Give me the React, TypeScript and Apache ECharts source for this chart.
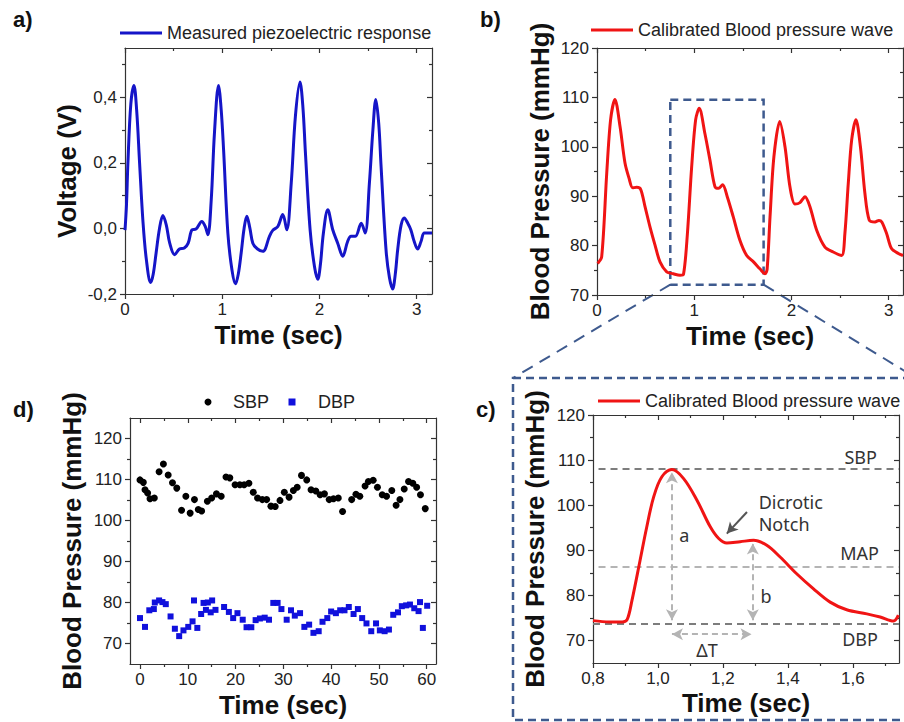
import React, { useEffect, useRef } from "react";
import * as echarts from "echarts";

// ---------- a) measured piezoelectric response ----------
const piezoTime = [0, 0.015, 0.03, 0.06, 0.092, 0.12, 0.15, 0.185, 0.22, 0.264, 0.29, 0.32, 0.355, 0.39, 0.425, 0.46, 0.51, 0.56, 0.61, 0.65, 0.69, 0.73, 0.79, 0.825, 0.853, 0.887, 0.92, 0.962, 0.99, 1.014, 1.058, 1.1, 1.137, 1.165, 1.195, 1.225, 1.253, 1.285, 1.315, 1.36, 1.418, 1.486, 1.52, 1.572, 1.623, 1.664, 1.71, 1.753, 1.8, 1.83, 1.856, 1.904, 1.949, 1.983, 2.01, 2.041, 2.086, 2.137, 2.188, 2.24, 2.29, 2.325, 2.37, 2.43, 2.47, 2.514, 2.55, 2.58, 2.61, 2.634, 2.685, 2.72, 2.753, 2.78, 2.805, 2.84, 2.873, 2.91, 2.94, 2.975, 3.01, 3.045, 3.08, 3.158];
const piezoVoltage = [-0.005, 0.07, 0.2, 0.38, 0.436, 0.36, 0.2, 0.02, -0.096, -0.165, -0.14, -0.075, 0.0, 0.039, 0.01, -0.045, -0.08, -0.063, -0.06, -0.045, -0.004, -0.002, 0.021, 0.006, -0.019, 0.087, 0.29, 0.436, 0.36, 0.24, -0.014, -0.126, -0.169, -0.14, -0.075, 0.0, 0.037, 0.0, -0.045, -0.062, -0.07, -0.024, -0.006, 0.006, 0.042, -0.004, 0.138, 0.342, 0.446, 0.37, 0.23, -0.004, -0.116, -0.155, -0.11, -0.014, 0.057, -0.004, -0.045, -0.085, -0.04, -0.024, -0.024, 0.016, -0.014, 0.138, 0.3, 0.393, 0.32, 0.19, -0.065, -0.15, -0.185, -0.14, -0.065, 0.01, 0.032, 0.015, -0.004, -0.04, -0.063, -0.04, -0.014, -0.014];

// ---------- b) calibrated blood pressure wave ----------
const waveTime = [0.007, 0.048, 0.1, 0.14, 0.185, 0.237, 0.288, 0.33, 0.367, 0.408, 0.449, 0.494, 0.545, 0.597, 0.648, 0.717, 0.785, 0.854, 0.89, 0.93, 0.974, 1.015, 1.052, 1.11, 1.162, 1.214, 1.25, 1.292, 1.34, 1.402, 1.47, 1.54, 1.61, 1.676, 1.728, 1.75, 1.78, 1.82, 1.88, 1.934, 1.985, 2.036, 2.088, 2.14, 2.19, 2.26, 2.345, 2.43, 2.517, 2.55, 2.585, 2.62, 2.664, 2.71, 2.756, 2.8, 2.86, 2.9, 2.93, 2.98, 3.03, 3.1, 3.148];
const wavePressure = [76.4, 77.7, 94.6, 105.5, 109.6, 104.1, 96.7, 93.6, 91.7, 91.8, 91.4, 87.9, 83.8, 80.1, 76.7, 74.7, 74.3, 74.0, 74.2, 82.4, 96.0, 105.5, 107.8, 102.7, 97.3, 91.9, 91.6, 92.3, 89.9, 85.8, 81.1, 78.0, 76.7, 75.3, 74.3, 75.2, 85.8, 98.0, 105.1, 100.0, 91.9, 88.4, 88.7, 89.9, 87.9, 83.1, 79.7, 78.7, 78.0, 82.4, 92.6, 101.4, 105.5, 100.0, 90.6, 85.2, 84.8, 85.1, 84.8, 82.4, 79.4, 78.4, 78.0];
const zoomWindowTime = [0.754, 1.714];
const zoomWindowPressure = [72.1, 109.5];

// ---------- c) single pulse ----------
const pulseTime = [0.8, 0.85, 0.89, 0.905, 0.92, 0.945, 0.965, 0.987, 1.012, 1.043, 1.079, 1.12, 1.161, 1.187, 1.212, 1.253, 1.294, 1.335, 1.376, 1.427, 1.478, 1.53, 1.581, 1.643, 1.684, 1.725, 1.74];
const pulsePressure = [74.4, 74.1, 74.1, 74.6, 78.9, 87.8, 95.0, 101.9, 106.3, 107.9, 105.9, 101.1, 95.2, 92.6, 91.6, 91.9, 92.2, 91.1, 88.5, 84.8, 81.5, 78.5, 76.8, 75.9, 75.2, 74.3, 75.6];
const levelNames = ["SBP", "MAP", "DBP"];
const levelValues = [108.1, 86.3, 73.8];
const levelStart = [0.817, 0.817, 0.8];
const arrowATime = 1.043, arrowAFrom = 74.5, arrowATo = 107.3;
const arrowBTime = 1.292, arrowBFrom = 74.5, arrowBTo = 91.5;
const deltaTLevel = 71.4, deltaTFrom = 1.043, deltaTTo = 1.288;

// ---------- d) SBP / DBP trend ----------
const sbpTime = [0, 0.7, 1.05, 1.6, 2.1, 3.0, 4.0, 4.9, 5.9, 6.8, 7.7, 8.7, 9.6, 10.5, 11.4, 12.2, 12.9, 14.1, 15.0, 16.0, 17.0, 18.0, 18.8, 19.9, 20.9, 21.8, 22.8, 23.7, 24.6, 25.6, 26.5, 27.4, 28.3, 29.3, 30.2, 31.2, 32.1, 32.9, 33.8, 34.9, 35.8, 36.8, 37.7, 38.6, 39.6, 40.5, 41.5, 42.4, 44.3, 45.2, 46.0, 47.1, 47.8, 48.8, 49.7, 50.7, 51.6, 52.7, 53.6, 54.4, 55.3, 56.2, 57.1, 57.9, 58.7, 59.7];
const sbpValues = [109.9, 109.3, 107.5, 106.7, 105.3, 105.5, 111.9, 113.8, 111.1, 109.2, 107.9, 102.5, 105.9, 101.8, 105.1, 102.7, 102.3, 104.7, 105.5, 106.5, 105.9, 110.6, 110.4, 108.7, 108.7, 108.7, 109.1, 106.9, 105.5, 105.1, 105.1, 103.5, 103.4, 104.9, 106.9, 105.7, 107.3, 108.1, 111.0, 109.9, 107.5, 107.2, 106.3, 106.5, 105.1, 105.3, 105.5, 102.2, 105.1, 106.4, 105.9, 108.4, 109.5, 109.8, 108.1, 106.3, 105.9, 107.3, 103.7, 105.1, 107.7, 109.5, 109.1, 108.1, 106.3, 102.9];
const dbpTime = [0, 1.05, 1.95, 2.9, 3.1, 4.0, 4.7, 5.4, 6.4, 7.3, 8.2, 9.1, 10.1, 11.0, 11.3, 12.0, 12.8, 13.3, 13.8, 14.2, 14.8, 15.1, 15.8, 17.6, 18.6, 19.5, 20.4, 21.5, 22.3, 23.3, 24.2, 25.1, 26.1, 27.0, 27.9, 28.8, 29.6, 30.7, 31.6, 32.4, 33.5, 34.4, 35.4, 36.3, 37.4, 38.2, 39.2, 40.0, 41.0, 41.9, 42.8, 43.7, 44.7, 45.6, 46.5, 47.4, 48.4, 49.4, 50.2, 51.2, 52.1, 53.0, 54.0, 54.8, 55.7, 56.5, 57.4, 58.3, 58.6, 59.2, 60.1];
const dbpValues = [76.2, 74.05, 78.1, 78.4, 80.0, 80.5, 80.1, 79.6, 76.6, 73.6, 71.8, 73.2, 74.05, 75.4, 80.5, 73.8, 77.2, 79.9, 78.2, 80.0, 77.6, 80.5, 78.2, 78.9, 77.7, 76.2, 77.4, 75.8, 73.97, 73.97, 75.7, 76.1, 76.3, 75.8, 79.9, 79.9, 78.4, 75.8, 78.1, 76.8, 77.4, 74.05, 74.6, 72.6, 73.0, 75.3, 76.2, 77.8, 77.4, 78.1, 78.1, 78.9, 77.2, 78.4, 76.2, 74.9, 73.0, 74.9, 73.2, 73.0, 73.4, 77.0, 77.6, 79.1, 79.3, 79.5, 78.6, 77.9, 80.1, 73.8, 79.2];

// ---------- tick values ----------
const secTicks = [0, 1, 2, 3];
const secMinor = [0.5, 1.5, 2.5];
const voltTicks = [-0.2, 0, 0.2, 0.4];
const voltMinor = [-0.1, 0.1, 0.3, 0.5];
const bpTicks = [70, 80, 90, 100, 110, 120];
const bpMinor = [75, 85, 95, 105, 115];
const pulseTimeTicks = [0.8, 1.0, 1.2, 1.4, 1.6];
const pulseTimeMinor = [0.9, 1.1, 1.3, 1.5, 1.7];
const trendTimeTicks = [0, 10, 20, 30, 40, 50, 60];
const trendTimeMinor = [5, 15, 25, 35, 45, 55];

const FONT = "'Liberation Sans', Arial, Helvetica, sans-serif";
const NOTE_FONT = "'Noto Sans', 'Open Sans', sans-serif";
const AXIS = "#333333";
const BLUE = "#1515c8";
const RED = "#f01414";
const DBP_BLUE = "#1010dc";
const FRAME = "#3e5a8e";

const comma1 = (v: number) => v.toFixed(1).replace(".", ",");
const intFmt = (v: number) => String(Math.round(v));
const zip = (a: number[], b: number[]) => a.map((x, i) => [x, b[i]]);

function makeAxes(dim: "x" | "y", gridIndex: number, min: number, max: number, major: number[], minor: number[], name: string, nameGap: number, fmt: (v: number) => string) {
  const mainPos = dim === "x" ? "bottom" : "left";
  const oppPos = dim === "x" ? "top" : "right";
  const base = { type: "value", gridIndex, min, max, splitLine: { show: false } };
  const line = { show: true, onZero: false, lineStyle: { color: AXIS, width: 1.2 } };
  const noLine = { show: false, onZero: false };
  const tickStyle = { color: AXIS, width: 1.2 };
  return [
    {
      ...base, position: mainPos, axisLine: line,
      axisTick: { show: true, inside: false, length: 5, customValues: major, lineStyle: tickStyle },
      axisLabel: { show: true, customValues: major, formatter: fmt, fontSize: 17, color: "#222", fontFamily: FONT, margin: dim === "x" ? 7 : 8 },
      name, nameLocation: "middle", nameGap,
      nameTextStyle: { fontSize: 26, fontWeight: "bold", color: "#111", fontFamily: FONT },
    },
    { ...base, position: mainPos, axisLine: noLine, axisTick: { show: true, inside: false, length: 3, customValues: minor, lineStyle: tickStyle }, axisLabel: { show: false } },
    { ...base, position: oppPos, axisLine: line, axisTick: { show: true, inside: true, length: 5, customValues: major, lineStyle: tickStyle }, axisLabel: { show: false } },
    { ...base, position: oppPos, axisLine: noLine, axisTick: { show: true, inside: true, length: 3, customValues: minor, lineStyle: tickStyle }, axisLabel: { show: false } },
  ];
}

export default function App() {
  const ref = useRef<HTMLDivElement>(null);

  useEffect(() => {
    if (!ref.current) return;
    const chart = echarts.init(ref.current, null, { renderer: "svg" });

    const xAxis = [
      ...makeAxes("x", 0, 0, 3.158, secTicks, secMinor, "Time (sec)", 28, intFmt),
      ...makeAxes("x", 1, 0, 3.148, secTicks, secMinor, "Time (sec)", 28, intFmt),
      ...makeAxes("x", 2, 0.8, 1.742, pulseTimeTicks, pulseTimeMinor, "Time (sec)", 27, comma1),
      ...makeAxes("x", 3, -2.09, 61.95, trendTimeTicks, trendTimeMinor, "Time (sec)", 28, intFmt),
    ];
    const yAxis = [
      ...makeAxes("y", 0, -0.2, 0.55, voltTicks, voltMinor, "Voltage (V)", 45, comma1),
      ...makeAxes("y", 1, 70, 120, bpTicks, bpMinor, "Blood Pressure (mmHg)", 44, intFmt),
      ...makeAxes("y", 2, 65, 120, bpTicks, bpMinor, "Blood Pressure (mmHg)", 45, intFmt),
      ...makeAxes("y", 3, 65, 125, bpTicks, bpMinor, "Blood Pressure (mmHg)", 45, intFmt),
    ];

    const grayDark = "#7d7d7d";
    const grayLight = "#b4b4b4";
    const levelColors = [grayDark, grayLight, grayDark];

    const markLineData: any[] = levelValues.map((v, i) => [
      { coord: [levelStart[i], v], symbol: "none", lineStyle: { color: levelColors[i], type: [7, 5], width: 2 } },
      { coord: [1.742, v], symbol: "none" },
    ]);
    const arrowStyle = { color: grayLight, type: [6, 4], width: 2 };
    markLineData.push(
      [{ coord: [arrowATime, arrowAFrom], symbol: "arrow", symbolSize: [9, 11], lineStyle: arrowStyle }, { coord: [arrowATime, arrowATo], symbol: "arrow", symbolSize: [9, 11] }],
      [{ coord: [arrowBTime, arrowBFrom], symbol: "arrow", symbolSize: [9, 11], lineStyle: arrowStyle }, { coord: [arrowBTime, arrowBTo], symbol: "arrow", symbolSize: [9, 11] }],
      [{ coord: [deltaTFrom, deltaTLevel], symbol: "arrow", symbolSize: [9, 11], lineStyle: arrowStyle }, { coord: [deltaTTo, deltaTLevel], symbol: "arrow", symbolSize: [9, 11] }],
      [{ coord: [1.274, 98.5], symbol: "none", lineStyle: { color: "#555", type: "solid", width: 2 } }, { coord: [1.212, 93.7], symbol: "arrow", symbolSize: [9, 11] }],
    );

    const lineLegend = (name: string, left: number, top: number) => ({
      data: [{ name, icon: "rect" }], left, top, itemWidth: 42, itemHeight: 3, itemGap: 0,
      textStyle: { fontSize: 18, color: "#222", fontFamily: FONT }, selectedMode: false,
    });

    const option: any = {
      animation: false,
      backgroundColor: "#ffffff",
      textStyle: { fontFamily: FONT },
      grid: [
        { left: 125, top: 48, width: 307, height: 246 },
        { left: 597, top: 48, width: 306, height: 247 },
        { left: 593, top: 415, width: 306, height: 248 },
        { left: 130, top: 418, width: 306, height: 246 },
      ],
      xAxis,
      yAxis,
      legend: [
        lineLegend("Measured piezoelectric response", 115, 19),
        lineLegend("Calibrated Blood pressure wave", 586, 16),
        lineLegend("Calibrated Blood pressure wave", 593, 387),
      ],
      series: [
        {
          name: "Measured piezoelectric response", type: "line", xAxisIndex: 0, yAxisIndex: 0,
          data: zip(piezoTime, piezoVoltage), symbol: "none", smooth: 0.35,
          lineStyle: { color: BLUE, width: 3 }, itemStyle: { color: BLUE },
        },
        {
          name: "Calibrated Blood pressure wave", type: "line", xAxisIndex: 4, yAxisIndex: 4,
          data: zip(waveTime, wavePressure), symbol: "none", smooth: 0.3,
          lineStyle: { color: RED, width: 3 }, itemStyle: { color: RED },
          markArea: {
            silent: true,
            itemStyle: { color: "rgba(0,0,0,0)", borderColor: FRAME, borderWidth: 2.5, borderType: [8, 5] },
            data: [[{ coord: [zoomWindowTime[0], zoomWindowPressure[1]] }, { coord: [zoomWindowTime[1], zoomWindowPressure[0]] }]],
          },
        },
        {
          name: "Calibrated Blood pressure wave", type: "line", xAxisIndex: 8, yAxisIndex: 8,
          data: zip(pulseTime, pulsePressure), symbol: "none", smooth: 0.35,
          lineStyle: { color: RED, width: 3 }, itemStyle: { color: RED }, z: 3,
          markLine: { silent: true, label: { show: false }, symbol: ["none", "none"], data: markLineData, z: 2 },
        },
        {
          name: "SBP", type: "scatter", xAxisIndex: 12, yAxisIndex: 12,
          data: zip(sbpTime, sbpValues), symbol: "circle", symbolSize: 7, itemStyle: { color: "#000", opacity: 1 },
        },
        {
          name: "DBP", type: "scatter", xAxisIndex: 12, yAxisIndex: 12,
          data: zip(dbpTime, dbpValues), symbol: "rect", symbolSize: 6, itemStyle: { color: DBP_BLUE, opacity: 1 },
        },
      ],
    };
    chart.setOption(option);

    const px = (t: number, p: number) => chart.convertToPixel({ xAxisIndex: 8, yAxisIndex: 8 } as any, [t, p]) as number[];
    const pb = (t: number, p: number) => chart.convertToPixel({ xAxisIndex: 4, yAxisIndex: 4 } as any, [t, p]) as number[];
    const bl = pb(zoomWindowTime[0], zoomWindowPressure[0]);
    const br = pb(zoomWindowTime[1], zoomWindowPressure[0]);
    const boxLeft = 513, boxTop = 378, boxBottom = 720;

    const note = (text: string, t: number, p: number, align: string) => {
      const [x, y] = px(t, p);
      return { type: "text", x, y, z: 10, style: { text, fontSize: 18, fontFamily: NOTE_FONT, fill: "#333", align, verticalAlign: "middle" } };
    };
    const panelLabel = (text: string, left: number, top: number) => ({
      type: "text", left, top, style: { text, fontSize: 22, fontWeight: "bold", fontFamily: FONT, fill: "#111" },
    });
    const legendText = (text: string, x: number, y: number) => ({
      type: "text", x, y, style: { text, fontSize: 18, fontFamily: FONT, fill: "#222", align: "left", verticalAlign: "middle" },
    });

    const levelLabelTime = [1.674, 1.68, 1.677];
    const levelLabelP = [110.6, 89.4, 70.4];
    const legendY = 402;

    chart.setOption({
      graphic: [
        panelLabel("a)", 13, 8),
        panelLabel("b)", 480, 8),
        panelLabel("c)", 476, 398),
        panelLabel("d)", 13, 398),
        { type: "circle", shape: { cx: 208, cy: legendY, r: 3.5 }, style: { fill: "#000" } },
        legendText("SBP", 233, legendY),
        { type: "rect", shape: { x: 288.5, y: legendY - 3.5, width: 7, height: 7 }, style: { fill: DBP_BLUE } },
        legendText("DBP", 318, legendY),
        {
          type: "rect", shape: { x: boxLeft, y: boxTop, width: 393, height: boxBottom - boxTop },
          style: { fill: "none", stroke: FRAME, lineWidth: 2.5, lineDash: [8, 5] }, silent: true,
        },
        { type: "line", shape: { x1: bl[0], y1: bl[1], x2: boxLeft, y2: boxTop }, style: { stroke: FRAME, lineWidth: 2, lineDash: [12, 8] }, silent: true },
        { type: "line", shape: { x1: br[0], y1: br[1], x2: 916, y2: boxTop }, style: { stroke: FRAME, lineWidth: 2, lineDash: [12, 8] }, silent: true },
        ...levelNames.map((n, i) => note(n, levelLabelTime[i], levelLabelP[i], "right")),
        note("Dicrotic", 1.31, 100.7, "left"),
        note("Notch", 1.31, 95.8, "left"),
        note("a", 1.081, 93.3, "center"),
        note("b", 1.333, 79.8, "center"),
        note("ΔT", 1.151, 67.8, "center"),
      ],
    });

    return () => chart.dispose();
  }, []);

  return (
    <div
      ref={ref}
      style={{ position: "absolute", left: 0, top: 0, width: 904, height: 722, background: "#fff" }}
    />
  );
}
